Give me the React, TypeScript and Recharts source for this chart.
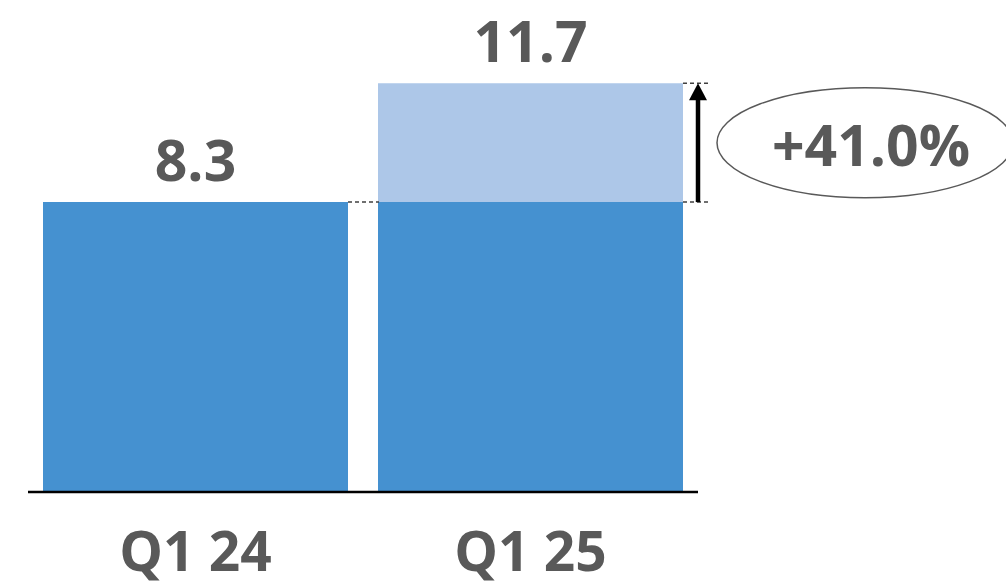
import React from "react";
import { BarChart, Bar, XAxis, YAxis, LabelList, ReferenceLine } from "recharts";

const categories = ["Q1 24", "Q1 25"];
const totals = [8.3, 11.7];

const DARK_BLUE = "#4591d0";
const LIGHT_BLUE = "#adc7e8";
const TEXT_GRAY = "#595959";
const FONT = "'Open Sans', sans-serif";

// base = previous quarter level, increase = growth on top of it
const data = categories.map((name, i) => ({
  name,
  base: totals[0],
  increase: +(totals[i] - totals[0]).toFixed(1),
  total: totals[i],
}));

const growthPct = ((totals[1] / totals[0] - 1) * 100).toFixed(1);

const CategoryTick = (props: any) => {
  const { x, y, payload } = props;
  return (
    <text
      x={x}
      y={y + 71}
      textAnchor="middle"
      fontFamily={FONT}
      fontWeight={700}
      fontSize={55}
      fill={TEXT_GRAY}
    >
      {payload.value}
    </text>
  );
};

const dash = { stroke: "#404040", strokeWidth: 1.5, strokeDasharray: "4 3" };

// total label above each stack, plus connectors and growth badge.
// Hooked on the base series so every category gets one; the stack top
// is derived from the base bar's pixels-per-unit.
const StackLabel = (props: any) => {
  const { x, y, width, height, index } = props;
  const row = data[index];
  const ppu = height / row.base;
  const bottom = y + height;
  const baseTop = y;
  const totalTop = bottom - row.total * ppu;
  const cx = x + width / 2;
  const right = x + width;
  return (
    <g>
      <text
        x={cx}
        y={totalTop - 21}
        textAnchor="middle"
        fontFamily={FONT}
        fontWeight={700}
        fontSize={57}
        fill={TEXT_GRAY}
      >
        {row.total}
      </text>
      {index === 0 && <line x1={right} y1={baseTop} x2={right + 31} y2={baseTop} {...dash} />}
      {index === 1 && (
        <g>
          <line x1={right} y1={totalTop} x2={right + 25} y2={totalTop} {...dash} />
          <line x1={right} y1={baseTop} x2={right + 25} y2={baseTop} {...dash} />
          <line x1={right + 15} y1={baseTop} x2={right + 15} y2={totalTop + 14} stroke="#000" strokeWidth={4.5} />
          <polygon
            points={`${right + 15},${totalTop} ${right + 6},${totalTop + 17} ${right + 24},${totalTop + 17}`}
            fill="#000"
          />
          <ellipse
            cx={right + 182}
            cy={(totalTop + baseTop) / 2}
            rx={148}
            ry={55}
            fill="none"
            stroke="#595959"
            strokeWidth={1.5}
          />
          <text
            x={right + 188}
            y={(totalTop + baseTop) / 2 + 23}
            textAnchor="middle"
            fontFamily={FONT}
            fontWeight={700}
            fontSize={57}
            fill={TEXT_GRAY}
          >
            +{growthPct}%
          </text>
        </g>
      )}
    </g>
  );
};

export default function App() {
  return (
    <div style={{ position: "absolute", left: 0, top: 0, width: 1006, height: 586, background: "#fff" }}>
      <BarChart
        width={1006}
        height={586}
        data={data}
        margin={{ top: 3, right: 308, bottom: 34, left: 28 }}
        barCategoryGap={15}
      >
        <XAxis
          dataKey="name"
          axisLine={false}
          tickLine={false}
          tick={<CategoryTick />}
          height={60}
        />
        <YAxis hide domain={[0, 14]} />
        <Bar dataKey="base" stackId="a" fill={DARK_BLUE} isAnimationActive={false}>
          <LabelList dataKey="base" content={<StackLabel />} />
        </Bar>
        <Bar dataKey="increase" stackId="a" fill={LIGHT_BLUE} isAnimationActive={false} />
        <ReferenceLine y={0} stroke="#000" strokeWidth={2.5} />
      </BarChart>
    </div>
  );
}
